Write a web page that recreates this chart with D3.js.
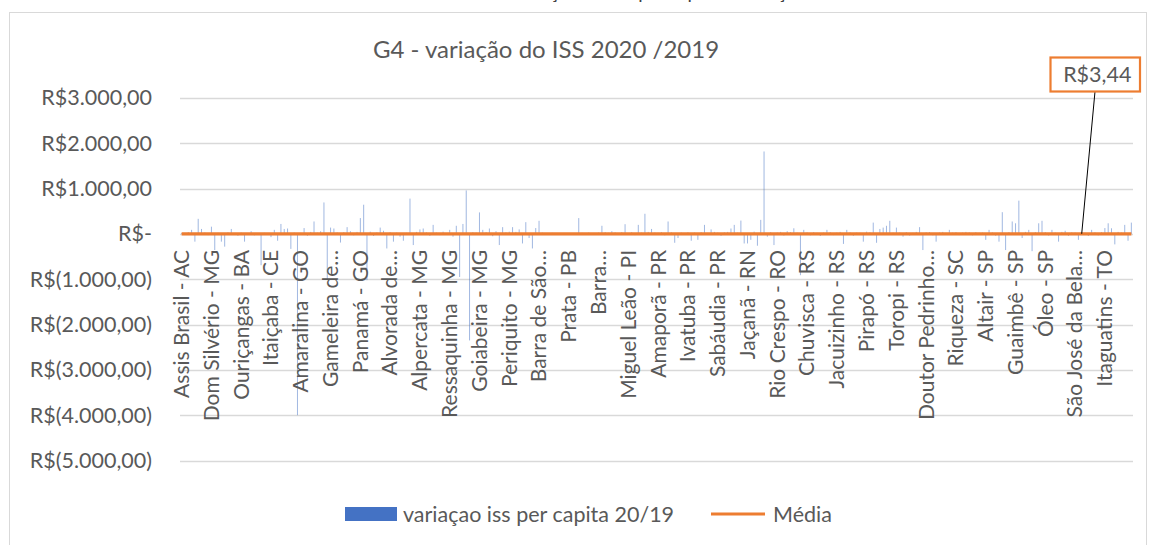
<!DOCTYPE html>
<html>
<head>
<meta charset="utf-8">
<script src="https://cdnjs.cloudflare.com/ajax/libs/d3/7.8.5/d3.min.js"></script>
<style>
  body { margin: 0; background: #fff; }
  svg text { font-family: Lato, "Open Sans", sans-serif; fill: #595959; }
</style>
</head>
<body>
<div id="chart"></div>
<script>
// Data
var labels = ["Assis Brasil - AC", "Dom Silvério - MG", "Ouriçangas - BA", "Itaiçaba - CE",
    "Amaralina - GO", "Gameleira de…", "Panamá - GO", "Alvorada de…", "Alpercata - MG",
    "Ressaquinha - MG", "Goiabeira - MG", "Periquito - MG", "Barra de São…", "Prata - PB",
    "Barra…", "Miguel Leão - PI", "Amaporã - PR", "Ivatuba - PR", "Sabáudia - PR",
    "Jaçanã - RN", "Rio Crespo - RO", "Chuvisca - RS", "Jacuizinho - RS", "Pirapó - RS",
    "Toropi - RS", "Doutor Pedrinho…", "Riqueza - SC", "Altair - SP", "Guaimbê - SP",
    "Óleo - SP", "São José da Bela…", "Itaguatins - TO"];

// one row per labelled group (9 municipios each)
var values = [
    20, -15, 40, 90, -170, 333, 110, 30, -25,
    160, -355, 25, -170, -280, 35, 110, 20, -40,
    30, -170, 15, 60, -30, 20, -690, 25, -20,
    -70, 90, -150, 220, 110, 120, -330, 30, -4000,
    25, 130, -40, 45, 275, 30, 60, 695, -1000,
    140, 120, 35, -190, 40, 150, 60, -30, 45,
    350, 645, -1020, 50, -45, 35, 140, 70, -320,
    40, -170, 30, -60, -150, 25, 780, -245, 45,
    100, 120, 35, -40, 200, 30, -25, 50, 20,
    90, -60, 180, -950, 220, 960, -2350, 40, 30,
    475, 90, 40, 120, -50, 60, -245, 150, 35,
    50, 150, 45, 100, -210, 260, -90, -320, 130,
    290, 30, -20, 15, 25, -15, 20, 10, 15,
    10, 20, -10, 350, 25, 15, 30, -15, 20,
    30, 180, 40, 25, 60, 35, -20, 40, 215,
    20, 40, -25, 200, 30, 445, 45, 110, 30,
    25, 40, -30, 275, 35, -195, -90, 30, 20,
    35, -150, 30, -130, 40, 200, 25, 100, 45,
    30, -40, 35, 45, 120, 200, 30, 295, -210,
    -210, -130, 50, -260, 310, 1820, -60, 40, -245,
    30, 45, -35, 60, 40, 125, 30, -910, 90,
    35, -30, 40, 25, -45, 30, 90, 40, -25,
    30, 45, -220, 90, 35, -40, 30, 25, -170,
    50, 35, 250, -195, 110, 140, 180, 290, 30,
    140, 30, -60, 40, -35, 25, 45, 150, -355,
    35, 40, -30, -170, 30, 45, 25, 90, 30,
    40, -25, 30, 45, 35, -30, 40, 25, 30,
    -130, 90, 35, -40, -170, 480, -355, 40, 275,
    235, 735, -90, 45, 90, -380, 40, 235, 290,
    40, -35, 90, 30, -170, 45, 70, -40, 35,
    30, -130, 40, 25, -45, 90, 35, -30, 40,
    130, 235, 125, -230, 45, 30, 200, -150, 250
];

var media = 3.44;
var mediaIndex = 272;   // point the callout is attached to
var yTicks = [3000, 2000, 1000, 0, -1000, -2000, -3000, -4000, -5000];
var labelStep = 9;

// svg area
var svgWidth = 1149;
var svgHeight = 545;
var plot = { left: 180, right: 1133, top: 98, bottom: 460.5 };

var svg = d3.select("#chart")
    .append("svg")
    .attr("width", svgWidth)
    .attr("height", svgHeight);

// chart frame + cut off heading above it
svg.append("rect")
    .attr("x", 9.5)
    .attr("y", 12.5)
    .attr("width", 1137)
    .attr("height", 600)
    .attr("fill", "#fff")
    .attr("stroke", "#d9d9d9");

svg.append("text")
    .attr("x", 415)
    .attr("y", -1.5)
    .attr("textLength", 570)
    .attr("font-size", "19px")
    .style("fill", "#404040")
    .text("Gráfico 4 – Variação do ISS per capita e Variação da Média 2020/2019");

// scales
var xScale = d3.scaleBand()
    .domain(d3.range(values.length))
    .range([plot.left, plot.right])
    .padding(0);
var bw = xScale.bandwidth();

var yScale = d3.scaleLinear()
    .domain([-5000, 3000])
    .range([plot.bottom, plot.top]);

// R$ formatting like Excel's accounting format
var ptBR = d3.formatLocale({ decimal: ",", thousands: ".", grouping: [3], currency: ["R$", ""] });
var num = ptBR.format(",.2f");
function brl(v) {
    if (v === 0) return "R$-";
    if (v < 0) return "R$(" + num(-v) + ")";
    return "R$" + num(v);
}

// gridlines
svg.append("g")
    .selectAll("line")
    .data(yTicks)
    .enter()
    .append("line")
    .attr("x1", plot.left)
    .attr("x2", plot.right)
    .attr("y1", d => Math.round(yScale(d)) + 0.5)
    .attr("y2", d => Math.round(yScale(d)) + 0.5)
    .attr("stroke", "#d9d9d9")
    .attr("stroke-width", 1.3);

// y axis labels
var leftAxis = d3.axisLeft(yScale)
    .tickValues(yTicks)
    .tickSize(0)
    .tickPadding(28)
    .tickFormat(brl);

svg.append("g")
    .attr("transform", `translate(${plot.left}, 0)`)
    .call(leftAxis)
    .call(g => g.select(".domain").remove())
    .selectAll("text")
    .attr("font-size", "21.5px")
    .style("fill", "#595959");

// bars
svg.append("g")
    .selectAll("rect")
    .data(values)
    .enter()
    .append("rect")
    .attr("x", (d, i) => xScale(i) + bw / 2 - 0.5)
    .attr("y", d => yScale(Math.max(0, d)))
    .attr("width", 1)
    .attr("height", d => Math.abs(yScale(d) - yScale(0)))
    .attr("fill", "#4472C4")
    .attr("opacity", 0.5);

// x axis labels (every 9th municipio)
var tickIdx = d3.range(0, values.length, labelStep);
var bottomAxis = d3.axisBottom(xScale)
    .tickValues(tickIdx)
    .tickSize(0)
    .tickFormat((d, i) => labels[i]);

svg.append("g")
    .attr("transform", `translate(0, ${yScale(0)})`)
    .call(bottomAxis)
    .call(g => g.select(".domain").remove())
    .selectAll("text")
    .attr("transform", "rotate(-90)")
    .attr("x", -16)
    .attr("y", 0)
    .attr("dy", "0.35em")
    .attr("text-anchor", "end")
    .attr("font-size", "21px")
    .style("fill", "#595959");

// media line
var mediaLine = d3.line()
    .x((d, i) => xScale(i) + bw / 2)
    .y(() => yScale(media));

svg.append("path")
    .datum(values)
    .attr("d", mediaLine)
    .attr("fill", "none")
    .attr("stroke", "#ED7D31")
    .attr("stroke-width", 3.2);

// callout for the media
var box = { x: 1050.5, y: 57.5, w: 89.5, h: 34 };
svg.append("line")
    .attr("x1", 1095)
    .attr("y1", box.y + box.h)
    .attr("x2", xScale(mediaIndex) + bw / 2)
    .attr("y2", yScale(media))
    .attr("stroke", "#000")
    .attr("stroke-width", 1);

svg.append("rect")
    .attr("x", box.x)
    .attr("y", box.y)
    .attr("width", box.w)
    .attr("height", box.h)
    .attr("fill", "#fff")
    .attr("stroke", "#ED7D31")
    .attr("stroke-width", 2.2);

svg.append("text")
    .attr("x", box.x + box.w / 2 + 2)
    .attr("y", box.y + box.h / 2)
    .attr("dy", "0.36em")
    .attr("text-anchor", "middle")
    .attr("font-size", "21.5px")
    .text(brl(media));

// chart title
svg.append("text")
    .attr("x", 546)
    .attr("y", 50)
    .attr("dy", "0.35em")
    .attr("text-anchor", "middle")
    .attr("font-size", "24px")
    .text("G4 - variação do ISS 2020 /2019");

// legend
var legend = svg.append("g");
legend.append("rect")
    .attr("x", 345)
    .attr("y", 507)
    .attr("width", 52)
    .attr("height", 14)
    .attr("fill", "#4472C4");
legend.append("text")
    .attr("x", 403)
    .attr("y", 514)
    .attr("dy", "0.35em")
    .attr("font-size", "21.5px")
    .text("variaçao iss per capita 20/19");
legend.append("line")
    .attr("x1", 711)
    .attr("x2", 765)
    .attr("y1", 514)
    .attr("y2", 514)
    .attr("stroke", "#ED7D31")
    .attr("stroke-width", 3.2);
legend.append("text")
    .attr("x", 773)
    .attr("y", 514)
    .attr("dy", "0.35em")
    .attr("font-size", "21.5px")
    .text("Média");
</script>
</body>
</html>
